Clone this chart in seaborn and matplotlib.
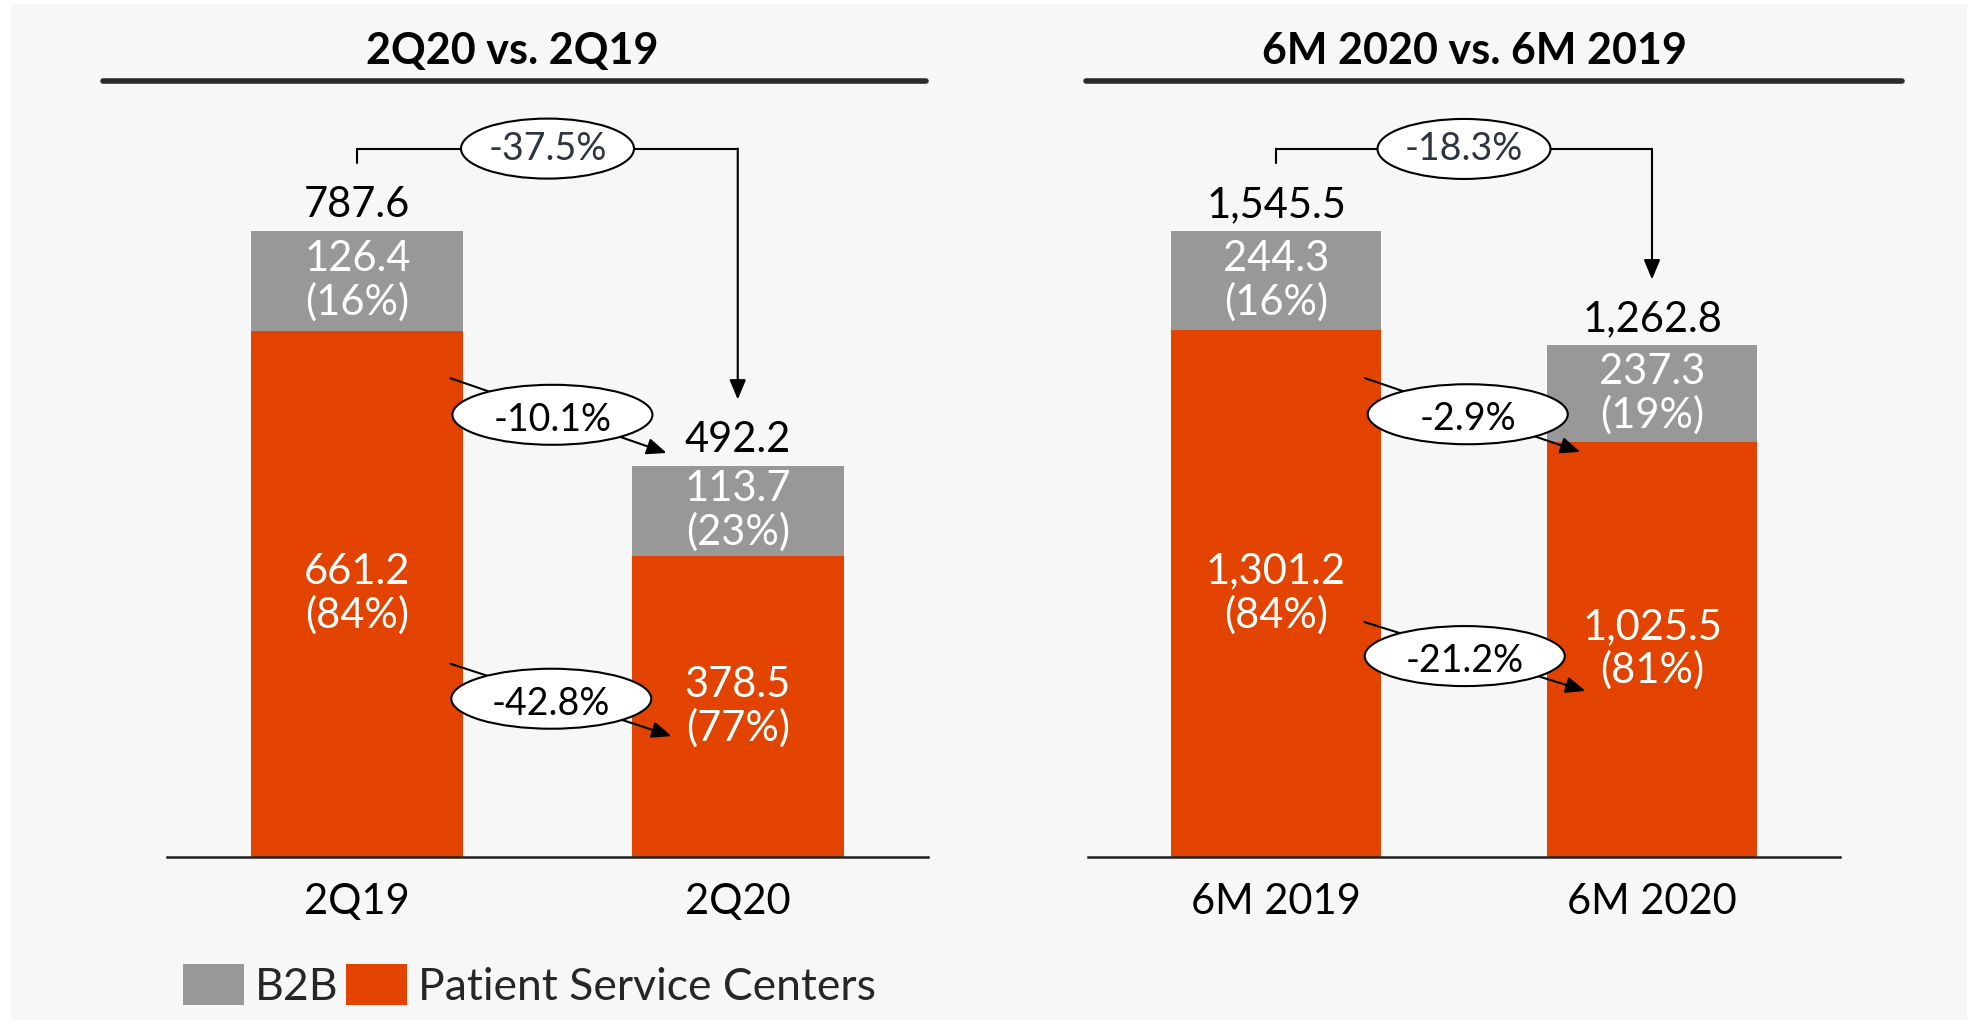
import matplotlib
matplotlib.use("Agg")
import matplotlib.pyplot as plt
from matplotlib.patches import Ellipse, Rectangle, Patch
from matplotlib.lines import Line2D
import seaborn as sns
import pandas as pd

# ---------------- data ----------------
periods_q = ["2Q19", "2Q20"]
b2b_q = [126.4, 113.7]
psc_q = [661.2, 378.5]
total_q = [787.6, 492.2]
b2b_pct_q = [16, 23]
psc_pct_q = [84, 77]
chg_total_q = "-37.5%"
chg_b2b_q = "-10.1%"
chg_psc_q = "-42.8%"

periods_h = ["6M 2019", "6M 2020"]
b2b_h = [244.3, 237.3]
psc_h = [1301.2, 1025.5]
total_h = [1545.5, 1262.8]
b2b_pct_h = [16, 19]
psc_pct_h = [84, 81]
chg_total_h = "-18.3%"
chg_b2b_h = "-2.9%"
chg_psc_h = "-21.2%"

title_q = "2Q20 vs. 2Q19"
title_h = "6M 2020 vs. 6M 2019"
legend_labels = ["B2B", "Patient Service Centers"]

# ---------------- style ----------------
sns.set_style("white")
plt.rcParams["font.family"] = ["Lato", "DejaVu Sans"]
GRAY = "#989898"
ORANGE = "#E24400"
BG = "#F7F7F7"
FS = 30

W, H = 1967, 1023
fig = plt.figure(figsize=(W / 100, H / 100), dpi=100, facecolor="white")
fig.patches.append(Rectangle((11 / W, 3 / H), 1 - 11 / W, 1 - 7 / H,
                             transform=fig.transFigure, facecolor=BG,
                             edgecolor="none", zorder=-10))


def px_axes(x0, x1, ytop, ybot):
    return [x0 / W, 1 - ybot / H, (x1 - x0) / W, (ybot - ytop) / H]


ax1 = fig.add_axes(px_axes(167, 928, 140, 857))
ax2 = fig.add_axes(px_axes(1088, 1840, 140, 857))


def draw_panel(ax, periods, b2b, psc, total, b2b_pct, psc_pct, ymax,
               chg_total, chg_b2b, chg_psc, mid_ann, top_center_x):
    df = pd.DataFrame({"period": periods, "total": total, "psc": psc})
    sns.barplot(data=df, x="period", y="total", color=GRAY, saturation=1,
                width=0.558, ax=ax, edgecolor="none", linewidth=0)
    sns.barplot(data=df, x="period", y="psc", color=ORANGE, saturation=1,
                width=0.558, ax=ax, edgecolor="none", linewidth=0)
    ax.set_xlim(-0.5, 1.5)
    ax.set_ylim(0, ymax)
    ax.set_facecolor("none")
    for s in ["top", "right", "left"]:
        ax.spines[s].set_visible(False)
    ax.spines["bottom"].set_color("#222222")
    ax.spines["bottom"].set_linewidth(1.8)
    ax.set_xlabel("")
    ax.set_ylabel("")
    ax.set_yticks([])
    ax.tick_params(axis="x", length=0, pad=19, labelsize=FS, colors="black")

    ypx = ax.bbox.height / ymax          # pixels per data unit
    xpx = ax.bbox.width / 2.0            # pixels per category unit

    for i in range(len(periods)):
        ax.text(i, psc[i] + b2b[i] / 2, f"{b2b[i]:,.1f}\n({b2b_pct[i]}%)",
                ha="center", va="center", color="white", fontsize=FS,
                linespacing=1.13)
        ax.text(i, psc[i] / 2, f"{psc[i]:,.1f}\n({psc_pct[i]}%)",
                ha="center", va="center", color="white", fontsize=FS,
                linespacing=1.13)
        ax.annotate(f"{total[i]:,.1f}", xy=(i, total[i]), xytext=(0, 10),
                    textcoords="offset points", ha="center", va="baseline",
                    fontsize=FS, color="black")

    # total change bracket
    y_start = total[0] + 68 / ypx
    y_h = max(total) + 82 / ypx
    y_tip = total[1] + 66 / ypx
    ax.plot([0, 0, 1], [y_start, y_h, y_h], color="black", lw=1.5,
            clip_on=False, zorder=3, solid_joinstyle="miter")
    ax.annotate("", xy=(1, y_tip), xytext=(1, y_h),
                arrowprops=dict(arrowstyle="-|>,head_length=0.6,head_width=0.25",
                                color="black", lw=1.5, shrinkA=0, shrinkB=0,
                                mutation_scale=20), zorder=3)
    ax.add_patch(Ellipse((top_center_x, y_h), 173 / xpx, 60 / ypx,
                         facecolor="white", edgecolor="black", lw=1.5,
                         zorder=4, clip_on=False))
    ax.text(top_center_x, y_h, chg_total, ha="center", va="center",
            fontsize=FS - 3, color="#2E3440", zorder=5)

    # segment change arrows
    for (start, tip, centre), label in zip(mid_ann, [chg_b2b, chg_psc]):
        ax.annotate("", xy=tip, xytext=start,
                    arrowprops=dict(arrowstyle="-|>,head_length=0.6,head_width=0.25",
                                    color="black", lw=1.5, shrinkA=0, shrinkB=0,
                                    mutation_scale=20), zorder=3)
        ax.add_patch(Ellipse(centre, 200 / xpx, 60 / ypx, facecolor="white",
                             edgecolor="black", lw=1.5, zorder=4))
        ax.text(centre[0], centre[1] - 5 / ypx, label, ha="center",
                va="center", fontsize=FS - 3, color="black", zorder=5)


mid_q = [((0.245, 602), (0.813, 508), (0.513, 556)),
         ((0.245, 243), (0.826, 152), (0.51, 199))]
mid_h = [((0.237, 1182), (0.809, 1000), (0.51, 1093)),
         ((0.235, 580), (0.823, 410), (0.502, 496))]

draw_panel(ax1, periods_q, b2b_q, psc_q, total_q, b2b_pct_q, psc_pct_q, 901.5,
           chg_total_q, chg_b2b_q, chg_psc_q, mid_q, 0.5)
draw_panel(ax2, periods_h, b2b_h, psc_h, total_h, b2b_pct_h, psc_pct_h, 1770,
           chg_total_h, chg_b2b_h, chg_psc_h, mid_h, 0.5)

# titles and underlines
fig.text(512 / W, 1 - 51 / H, title_q, ha="center", va="center",
         fontsize=31, fontweight="bold", color="black")
fig.text(1474 / W, 1 - 51 / H, title_h, ha="center", va="center",
         fontsize=31, fontweight="bold", color="black")
fig.lines.append(Line2D([103 / W, 926 / W], [1 - 80.5 / H, 1 - 80.5 / H],
                        transform=fig.transFigure, color="#2B2B2B", lw=4))
fig.lines.append(Line2D([1086 / W, 1902 / W], [1 - 80.5 / H, 1 - 80.5 / H],
                        transform=fig.transFigure, color="#2B2B2B", lw=4))

# legend
handles = [Patch(facecolor=GRAY, edgecolor="none"),
           Patch(facecolor=ORANGE, edgecolor="none")]
fig.legend(handles, legend_labels, loc="center left",
           bbox_to_anchor=(183 / W, 1 - 986 / H), ncol=2, frameon=False,
           fontsize=32, handlelength=1.37, handleheight=1.03,
           handletextpad=0.25, columnspacing=0.17, borderpad=0,
           borderaxespad=0)

fig.savefig("out.png", dpi=100, facecolor=fig.get_facecolor())
